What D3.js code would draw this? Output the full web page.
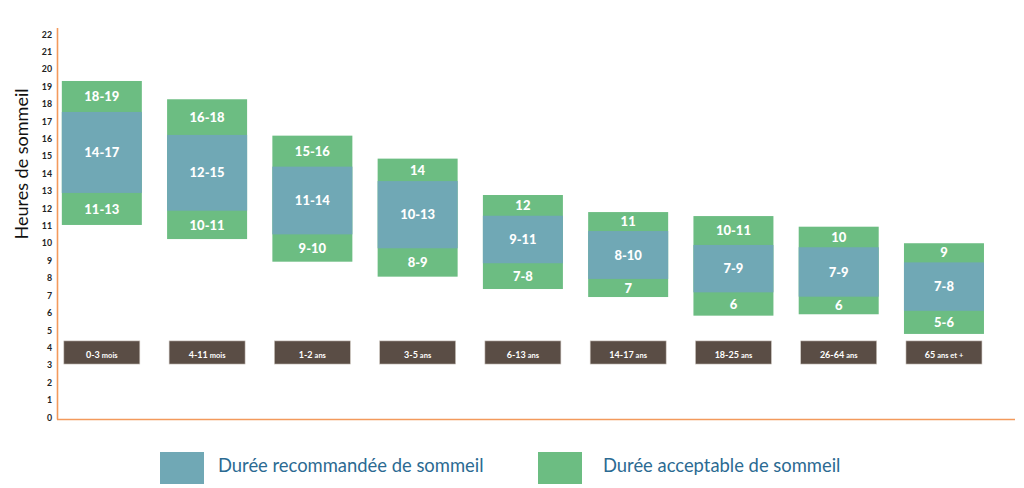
<!DOCTYPE html>
<html><head><meta charset="utf-8">
<script src="https://cdn.jsdelivr.net/npm/d3@7"></script>
<style>html,body{margin:0;padding:0;background:#fff;}svg{display:block;}</style>
</head><body>
<svg id="c" width="1024" height="488"></svg>
<script>
const categories = ["0-3 mois","4-11 mois","1-2 ans","3-5 ans","6-13 ans","14-17 ans","18-25 ans","26-64 ans","65 ans et +"];
const catNum = ["0-3","4-11","1-2","3-5","6-13","14-17","18-25","26-64","65"];
const catUnit = ["mois","mois","ans","ans","ans","ans","ans","ans","ans et +"];
// segment bounds (hours)
const acceptTopHigh = [19.33,18.28,16.19,14.87,12.78,11.80,11.57,10.96,10.01];
const recoHigh      = [17.55,16.23,14.41,13.58,11.59,10.71,9.91,9.78,8.91];
const recoLow       = [12.90,11.88,10.52,9.72,8.86,7.96,7.19,6.94,6.13];
const acceptBotLow  = [11.06,10.25,8.95,8.09,7.38,6.92,5.85,5.93,4.80];
const labelTop = ["18-19","16-18","15-16","14","12","11","10-11","10","9"];
const labelReco = ["14-17","12-15","11-14","10-13","9-11","8-10","7-9","7-9","7-8"];
const labelBot = ["11-13","10-11","9-10","8-9","7-8","7","6","6","5-6"];
const yTicks = d3.range(0,23);
const legendLabels = ["Durée recommandée de sommeil","Durée acceptable de sommeil"];

const BLUE = "#70a8b5", GREEN = "#6cbd82", BROWN = "#5a4d45", ORANGE = "#f39a5c";
const svg = d3.select("#c");
const y = d3.scaleLinear().domain([0,22]).range([417.5,34.5]);
const x = d3.scaleBand().domain(categories).range([49.2,996.6]).paddingInner(0.24).paddingOuter(0.12);
const bw = x.bandwidth();

// axes lines
svg.append("line").attr("x1",57.5).attr("x2",57.5).attr("y1",28).attr("y2",419.5).attr("stroke",ORANGE).attr("stroke-width",1.6);
svg.append("line").attr("x1",57).attr("x2",1015).attr("y1",419.5).attr("y2",419.5).attr("stroke",ORANGE).attr("stroke-width",1.6);

// y ticks labels
svg.append("g").selectAll("text").data(yTicks).join("text")
  .attr("x",52).attr("y",d=>y(d)).attr("dy","0.35em").attr("text-anchor","end")
  .attr("font-family","Lato, 'Open Sans', sans-serif").attr("font-weight","bold").attr("font-size",8.8).attr("fill","#222")
  .text(d=>d);

// y title
svg.append("text").attr("transform","translate(28,164) rotate(-90)").attr("text-anchor","middle")
  .attr("font-family","Lato, 'Open Sans', sans-serif").attr("font-size",18).attr("fill","#111").text("Heures de sommeil");

const data = categories.map((c,i)=>({c,i}));
const g = svg.append("g");
// acceptable (full extent)
g.selectAll("rect.acc").data(data).join("rect").attr("class","acc")
  .attr("x",d=>x(d.c)).attr("width",bw)
  .attr("y",d=>y(acceptTopHigh[d.i])).attr("height",d=>y(acceptBotLow[d.i])-y(acceptTopHigh[d.i]))
  .attr("fill",GREEN);
// recommended
g.selectAll("rect.rec").data(data).join("rect").attr("class","rec")
  .attr("x",d=>x(d.c)).attr("width",bw)
  .attr("y",d=>y(recoHigh[d.i])).attr("height",d=>y(recoLow[d.i])-y(recoHigh[d.i]))
  .attr("fill",BLUE);

const lab = (cls, yf, tf, fs)=> g.selectAll("text."+cls).data(data).join("text").attr("class",cls)
  .attr("x",d=>x(d.c)+bw/2).attr("y",d=>yf(d.i)).attr("dy","0.36em").attr("text-anchor","middle")
  .attr("font-family","Lato, sans-serif").attr("font-weight","900").attr("font-size",fs).attr("fill","#fff")
  .text(d=>tf(d.i));
lab("lt", i=>(y(acceptTopHigh[i])+y(recoHigh[i]))/2, i=>labelTop[i], 13);
lab("lr", i=>(y(recoHigh[i])+y(recoLow[i]))/2, i=>labelReco[i], 13);
lab("lb", i=>(y(recoLow[i])+y(acceptBotLow[i]))/2, i=>labelBot[i], 13);

// category boxes
const boxW = 76;
const cb = svg.append("g").selectAll("g").data(data).join("g");
cb.append("rect").attr("x",d=>x(d.c)+bw/2-boxW/2).attr("width",boxW)
  .attr("y",y(4.4)).attr("height",y(3.07)-y(4.4)).attr("fill",BROWN).attr("stroke","#cfc8c2").attr("stroke-width",0.6);
const ct = cb.append("text").attr("x",d=>x(d.c)+bw/2).attr("y",(y(4.4)+y(3.07))/2).attr("dy","0.35em")
  .attr("text-anchor","middle").attr("font-family","Lato, sans-serif").attr("font-weight","bold").attr("fill","#fff");
ct.append("tspan").attr("font-size",9).text(d=>catNum[d.i]);
ct.append("tspan").attr("font-size",7.5).attr("dx",2).text(d=>catUnit[d.i]);

// legend
const leg = svg.append("g");
const legColors = [BLUE, GREEN];
const legX = [160, 538];
const legTextX = [218, 603];
leg.selectAll("rect").data(legendLabels).join("rect")
  .attr("x",(d,i)=>legX[i]).attr("y",452).attr("width",44).attr("height",32).attr("fill",(d,i)=>legColors[i]);
leg.selectAll("text").data(legendLabels).join("text")
  .attr("x",(d,i)=>legTextX[i]).attr("y",471.5).attr("font-family","Lato, sans-serif").attr("font-size",18.4)
  .attr("fill","#2b6a92").text(d=>d);
</script>
</body></html>
